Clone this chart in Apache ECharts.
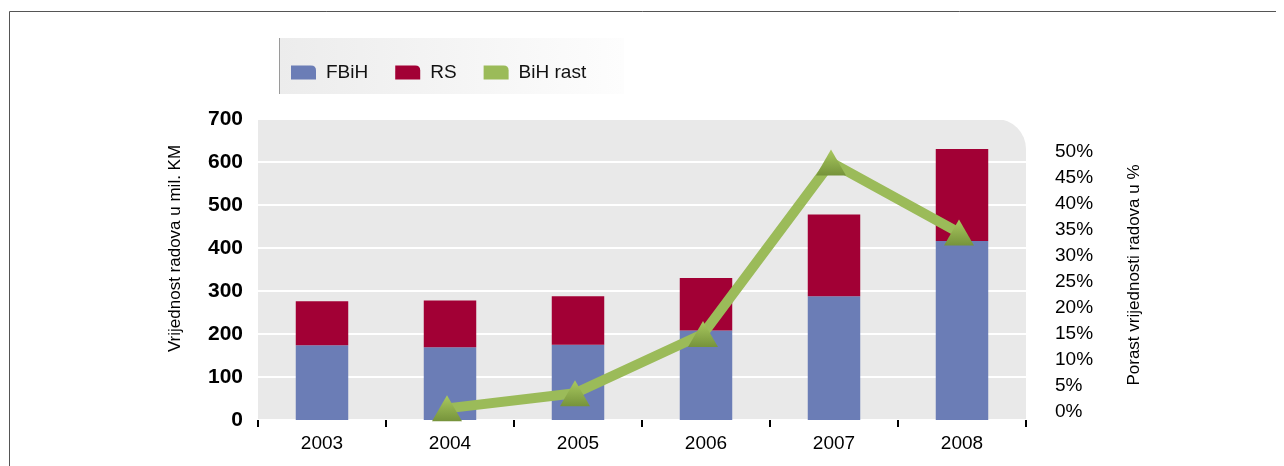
<!DOCTYPE html>
<html>
<head>
<meta charset="utf-8">
<script src="https://cdn.jsdelivr.net/npm/echarts@6/dist/echarts.min.js"></script>
<style>html,body{margin:0;padding:0;background:#fff}#c{width:1284px;height:466px}</style>
</head>
<body>
<div id="c"></div>
<script>
const years = ['2003','2004','2005','2006','2007','2008'];
const fbih = [174, 169, 175, 208, 288, 416];
const rs = [102, 109, 113, 122, 190, 214];
const bihRast = [null, 0.007, 0.036, 0.15, 0.48, 0.345];
const leftTicks = [0, 100, 200, 300, 400, 500, 600, 700];
const rightTicks = [0, 0.05, 0.1, 0.15, 0.2, 0.25, 0.3, 0.35, 0.4, 0.45, 0.5];

const FONT = '"Liberation Sans", Arial, sans-serif';
const chart = echarts.init(document.getElementById('c'));
const iconPath = 'path://M0,0 L20,0 Q25,0 25,5 L25,14 L0,14 Z';

chart.setOption({
  animation: false,
  graphic: [
    { type: 'line', z: -20, shape: { x1: 9.5, y1: 11.5, x2: 1276, y2: 11.5 }, style: { stroke: '#555', lineWidth: 1 } },
    { type: 'line', z: -20, shape: { x1: 9.5, y1: 11.5, x2: 9.5, y2: 466 }, style: { stroke: '#555', lineWidth: 1 } },
    { type: 'rect', z: -20, shape: { x: 279, y: 38, width: 345, height: 56 },
      style: { fill: new echarts.graphic.LinearGradient(0, 0, 1, 0, [{ offset: 0, color: '#ececec' }, { offset: 1, color: '#fdfdfd' }]) } },
    { type: 'line', z: -19, shape: { x1: 279.5, y1: 38, x2: 279.5, y2: 94 }, style: { stroke: '#9a9a9a', lineWidth: 1 } },
    { type: 'rect', z: -20, shape: { x: 258, y: 119, width: 768, height: 301, r: [0, 30, 0, 0] }, style: { fill: '#e9e9e9' } }
  ],
  legend: {
    left: 286, top: 58, itemWidth: 25, itemHeight: 14, itemGap: 27,
    textStyle: { fontFamily: FONT, fontSize: 19, color: '#111', padding: [0, 0, 0, 5] },
    data: [
      { name: 'FBiH', icon: iconPath },
      { name: 'RS', icon: iconPath },
      { name: 'BiH rast', icon: iconPath, itemStyle: { color: '#9bbb59' } }
    ]
  },
  grid: [
    { left: 258, right: 258, top: 119, height: 301 },
    { left: 255, right: 261, top: 152, height: 260 }
  ],
  xAxis: [
    { type: 'category', gridIndex: 0, data: years,
      axisLine: { show: false },
      axisTick: { show: true, length: 7, lineStyle: { color: '#000', width: 2 } },
      axisLabel: { fontFamily: FONT, fontSize: 19, color: '#000', margin: 14 } },
    { type: 'category', gridIndex: 1, data: years, show: false }
  ],
  yAxis: [
    { type: 'value', gridIndex: 0, min: 0, max: 700, interval: 100,
      name: 'Vrijednost radova u mil. KM', nameLocation: 'middle', nameGap: 74,
      nameTextStyle: { fontFamily: FONT, fontSize: 17, color: '#000', padding: [0, 0, 0, 42] },
      axisLine: { show: false }, axisTick: { show: false },
      axisLabel: { fontFamily: FONT, fontWeight: 'bold', fontSize: 21, color: '#000', margin: 15 },
      splitLine: { show: true, lineStyle: { color: '#ffffff', width: 2 } } },
    { type: 'value', gridIndex: 1, position: 'right', min: 0, max: 0.5, interval: 0.05,
      name: 'Porast vrijednosti radova u %', nameLocation: 'middle', nameGap: 103,
      nameTextStyle: { fontFamily: FONT, fontSize: 17, color: '#000', padding: [0, 0, 0, 14] },
      axisLine: { show: false }, axisTick: { show: false }, splitLine: { show: false },
      axisLabel: { fontFamily: FONT, fontSize: 19, color: '#000', margin: 32,
        formatter: v => Math.round(v * 100) + '%' } }
  ],
  series: [
    { name: 'FBiH', type: 'bar', stack: 'a', xAxisIndex: 0, yAxisIndex: 0, data: fbih,
      barWidth: '41%', itemStyle: { color: '#6b7db6' } },
    { name: 'RS', type: 'bar', stack: 'a', xAxisIndex: 0, yAxisIndex: 0, data: rs,
      barWidth: '41%', itemStyle: { color: '#a20035' } },
    { name: 'BiH rast', type: 'line', xAxisIndex: 1, yAxisIndex: 1, data: bihRast, z: 10,
      symbol: 'triangle', symbolSize: [30, 26], showSymbol: true,
      lineStyle: { color: '#9bbb59', width: 10 },
      itemStyle: { color: new echarts.graphic.LinearGradient(0, 0, 0, 1, [{ offset: 0, color: '#a9c95f' }, { offset: 1, color: '#76933b' }]) } }
  ]
});
</script>
</body>
</html>
